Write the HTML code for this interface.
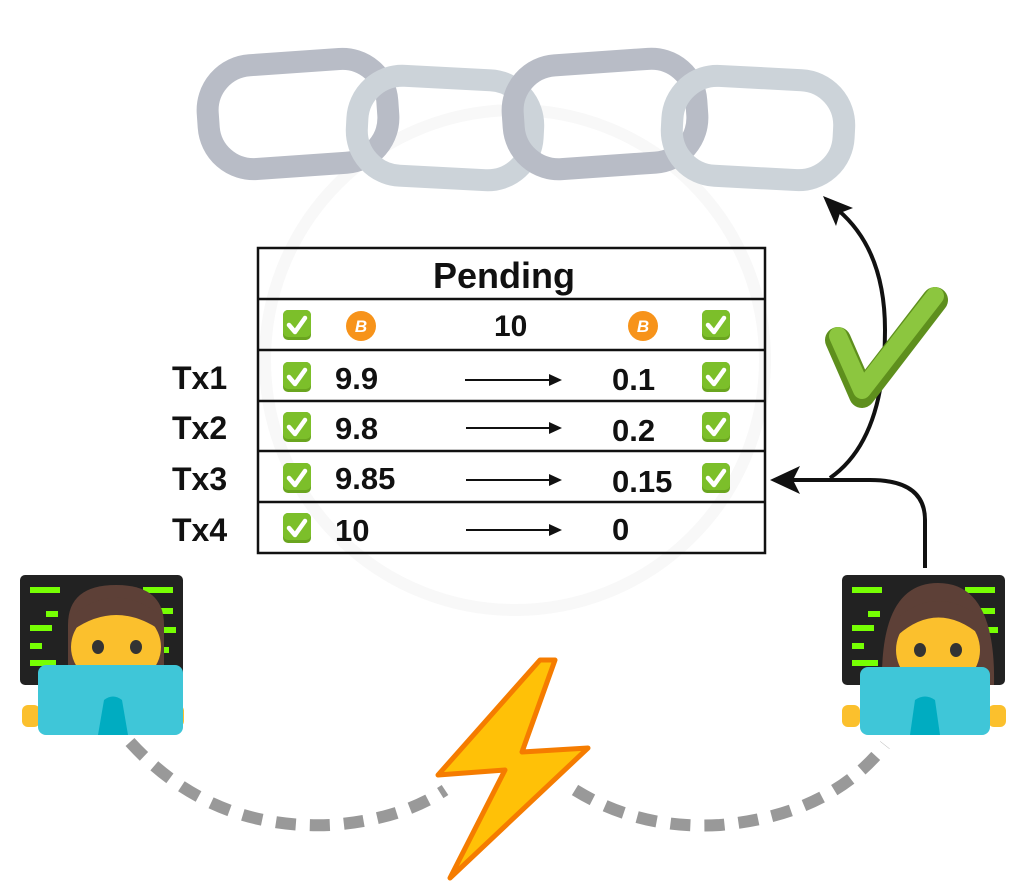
<!DOCTYPE html>
<html><head><meta charset="utf-8"><style>
html,body{margin:0;padding:0;background:#fff;}
body{width:1024px;height:886px;position:relative;overflow:hidden;font-family:"Liberation Sans",sans-serif;}
.t{position:absolute;font-weight:bold;color:#111;}
</style></head><body>
<svg width="1024" height="886" style="position:absolute;left:0;top:0">
<defs>
<g id="chk"><rect x="-14" y="-15" width="28" height="30" rx="5" fill="#6aa51f"/><rect x="-14" y="-15" width="28" height="27" rx="5" fill="#7cbf2a"/><path d="M-8 0 L-2 7 L8 -7" stroke="#fff" stroke-width="4.5" fill="none" stroke-linecap="round" stroke-linejoin="round"/></g>
<g id="btc"><circle r="15" fill="#f7931a"/><text x="0" y="6" font-family="Liberation Sans" font-weight="bold" font-size="17" fill="#fff" text-anchor="middle" font-style="italic">B</text></g>
</defs>
<circle cx="515" cy="360" r="250" fill="none" stroke="#f8f8f8" stroke-width="12"/>
<g fill="none" stroke-linejoin="round">
<rect x="208" y="62" width="180" height="104" rx="45" transform="rotate(-4 298 114)" stroke="#b8bcc6" stroke-width="22"/>
<rect x="357" y="78" width="176" height="100" rx="45" transform="rotate(3 445 128)" stroke="#ccd3d9" stroke-width="22"/>
<rect x="513" y="62" width="184" height="104" rx="45" transform="rotate(-4 605 114)" stroke="#b8bcc6" stroke-width="22"/>
<rect x="672" y="78" width="172" height="100" rx="45" transform="rotate(3 758 128)" stroke="#ccd3d9" stroke-width="22"/>
</g>
<g stroke="#111" stroke-width="2.5" fill="none">
<rect x="258" y="248" width="507" height="305"/>
<line x1="258" y1="299" x2="765" y2="299"/>
<line x1="258" y1="350" x2="765" y2="350"/>
<line x1="258" y1="401" x2="765" y2="401"/>
<line x1="258" y1="451" x2="765" y2="451"/>
<line x1="258" y1="502" x2="765" y2="502"/>
</g>
<g stroke="#111" stroke-width="2">
<line x1="465" y1="380" x2="552" y2="380"/><line x1="466" y1="428" x2="552" y2="428"/><line x1="466" y1="480" x2="552" y2="480"/><line x1="466" y1="530" x2="552" y2="530"/>
</g>
<g fill="#111">
<path d="M562 380 L549 374 L549 386Z"/><path d="M562 428 L549 422 L549 434Z"/><path d="M562 480 L549 474 L549 486Z"/><path d="M562 530 L549 524 L549 536Z"/>
</g>
<use href="#chk" x="297" y="325"/><use href="#btc" x="361" y="326"/><use href="#btc" x="643" y="326"/><use href="#chk" x="716" y="325"/>
<use href="#chk" x="297" y="377"/><use href="#chk" x="716" y="377"/>
<use href="#chk" x="297" y="427"/><use href="#chk" x="716" y="427"/>
<use href="#chk" x="297" y="478"/><use href="#chk" x="716" y="478"/>
<use href="#chk" x="297" y="528"/>
<path d="M925 568 L925 520 Q925 480 870 480 L790 480" stroke="#111" stroke-width="4" fill="none"/>
<path d="M770 480 L800 466 L793 480 L800 494Z" fill="#111"/>
<path d="M830 478 Q885 440 885 330 Q885 250 838 210" stroke="#111" stroke-width="4" fill="none"/>
<path d="M823 196 L853 208 L840 213 L836 226Z" fill="#111"/>
<path d="M838 340 L862 395 L935 300" stroke="#5e8f1d" stroke-width="26" fill="none" stroke-linecap="round" stroke-linejoin="round"/>
<path d="M838 336 L862 390 L935 296" stroke="#8cc63f" stroke-width="18" fill="none" stroke-linecap="round" stroke-linejoin="round"/>
<path d="M130 742 Q210 830 330 825 Q400 820 445 790" stroke="#999" stroke-width="12" fill="none" stroke-dasharray="20 14"/>
<path d="M575 790 Q640 830 720 825 Q830 815 885 745" stroke="#999" stroke-width="12" fill="none" stroke-dasharray="20 14"/>
<path d="M540 660 L438 775 L505 770 L450 878 L588 748 L522 752 L555 660Z" fill="#ffc107" stroke="#f57c00" stroke-width="5" stroke-linejoin="round"/>
<g transform="translate(18,575)">
<rect x="2" y="0" width="163" height="110" rx="5" fill="#222"/>
<g fill="#76ff03"><rect x="12" y="12" width="30" height="6"/><rect x="28" y="36" width="12" height="6"/><rect x="12" y="50" width="22" height="6"/><rect x="12" y="68" width="12" height="6"/><rect x="12" y="85" width="26" height="6"/><rect x="125" y="12" width="30" height="6"/><rect x="130" y="33" width="25" height="6"/><rect x="133" y="52" width="25" height="6"/><rect x="133" y="72" width="18" height="6"/></g>
<path d="M50 50 Q50 10 98 10 Q146 10 146 50 L146 90 L50 90Z" fill="#5d4037"/>
<ellipse cx="98" cy="72" rx="45" ry="40" fill="#fbc02d"/>
<ellipse cx="80" cy="72" rx="6" ry="7" fill="#333"/><ellipse cx="118" cy="72" rx="6" ry="7" fill="#333"/>
<path d="M55 55 Q98 25 142 55 L142 40 Q98 5 55 40Z" fill="#5d4037"/>
<rect x="4" y="130" width="18" height="22" rx="6" fill="#fbc02d"/><rect x="148" y="130" width="18" height="22" rx="6" fill="#fbc02d"/>
<rect x="20" y="90" width="145" height="70" rx="8" fill="#3fc6d8"/>
<path d="M80 160 L86 125 Q95 118 104 125 L110 160Z" fill="#00acc1"/>
</g>
<g transform="translate(840,575)">
<rect x="2" y="0" width="163" height="110" rx="5" fill="#222"/>
<g fill="#76ff03"><rect x="12" y="12" width="30" height="6"/><rect x="28" y="36" width="12" height="6"/><rect x="12" y="50" width="22" height="6"/><rect x="12" y="68" width="12" height="6"/><rect x="12" y="85" width="26" height="6"/><rect x="125" y="12" width="30" height="6"/><rect x="130" y="33" width="25" height="6"/><rect x="133" y="52" width="25" height="6"/><rect x="133" y="72" width="18" height="6"/></g>
<path d="M42 110 Q40 8 98 8 Q156 8 154 110Z" fill="#5d4037"/>
<ellipse cx="98" cy="75" rx="42" ry="40" fill="#fbc02d"/>
<ellipse cx="80" cy="75" rx="6" ry="7" fill="#333"/><ellipse cx="116" cy="75" rx="6" ry="7" fill="#333"/>
<path d="M58 60 Q98 25 140 60 L140 42 Q98 10 58 42Z" fill="#5d4037"/>
<rect x="2" y="130" width="18" height="22" rx="6" fill="#fbc02d"/><rect x="148" y="130" width="18" height="22" rx="6" fill="#fbc02d"/>
<rect x="20" y="92" width="130" height="68" rx="8" fill="#3fc6d8"/>
<path d="M70 160 L75 125 Q85 118 95 125 L100 160Z" fill="#00acc1"/>
</g>
</svg>
<div class="t" style="left:433px;top:255px;font-size:36px;">Pending</div>
<div class="t" style="left:494px;top:310px;font-size:30px;">10</div>
<div class="t" style="left:172px;top:360px;font-size:32px;">Tx1</div>
<div class="t" style="left:172px;top:410px;font-size:32px;">Tx2</div>
<div class="t" style="left:172px;top:461px;font-size:32px;">Tx3</div>
<div class="t" style="left:172px;top:512px;font-size:32px;">Tx4</div>
<div class="t" style="left:335px;top:361px;font-size:31px;">9.9</div>
<div class="t" style="left:335px;top:411px;font-size:31px;">9.8</div>
<div class="t" style="left:335px;top:461px;font-size:31px;">9.85</div>
<div class="t" style="left:335px;top:513px;font-size:31px;">10</div>
<div class="t" style="left:612px;top:362px;font-size:31px;">0.1</div>
<div class="t" style="left:612px;top:413px;font-size:31px;">0.2</div>
<div class="t" style="left:612px;top:464px;font-size:31px;">0.15</div>
<div class="t" style="left:612px;top:512px;font-size:31px;">0</div>
</body></html>
